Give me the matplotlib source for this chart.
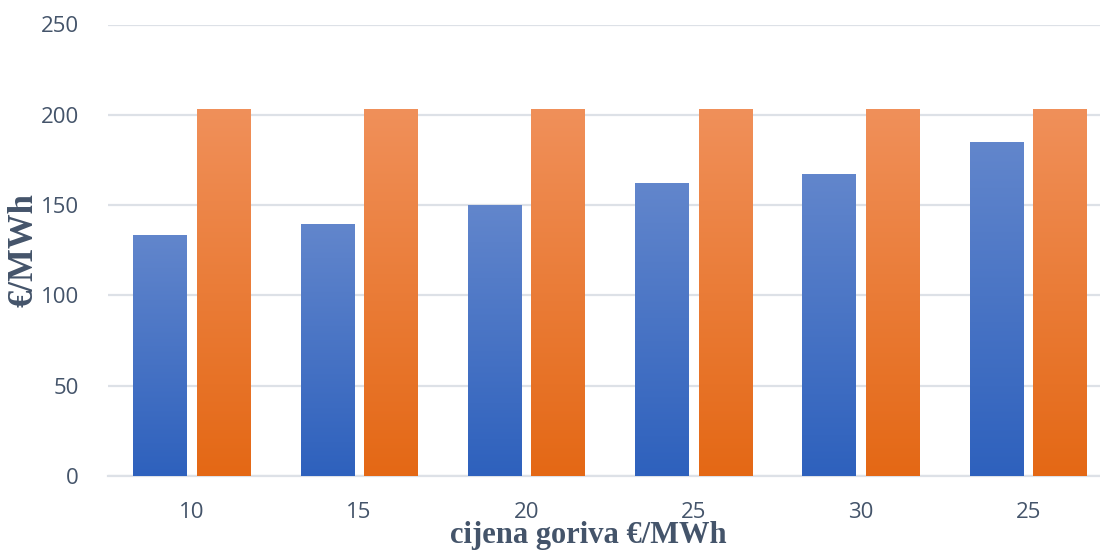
import numpy as np
import matplotlib
matplotlib.use("Agg")
import matplotlib.pyplot as plt
from matplotlib.colors import LinearSegmentedColormap

# Data
kategorije = ["10", "15", "20", "25", "30", "25"]
serija_plava = [133, 139.5, 150, 162, 167, 184.5]
serija_narancasta = [203, 203, 203, 203, 203, 203]

tekst_boja = "#44546A"
plt.rcParams['font.family'] = ['Open Sans', 'DejaVu Sans']

fig = plt.figure(figsize=(11, 5.53), dpi=100)
ax = fig.add_axes([108 / 1100, 77 / 553, 992 / 1100, 451.5 / 553])

x = np.arange(len(kategorije))
w = 0.317
off = 0.19

b1 = ax.bar(x - off, serija_plava, w, color="none", zorder=3)
b2 = ax.bar(x + off, serija_narancasta, w, color="none", zorder=3)

cm_plava = LinearSegmentedColormap.from_list("pl", ["#2E61BD", "#6286CC"])
cm_nar = LinearSegmentedColormap.from_list("nr", ["#E46815", "#F0905A"])

grad = np.linspace(0, 1, 256).reshape(-1, 1)
for bars, cm in [(b1, cm_plava), (b2, cm_nar)]:
    for r in bars:
        x0, y0 = r.get_x(), r.get_y()
        x1, y1 = x0 + r.get_width(), y0 + r.get_height()
        ax.imshow(grad, cmap=cm, origin="lower", aspect="auto",
                  extent=[x0, x1, y0, y1], zorder=3)

ax.set_xlim(-0.5, 5.43)
ax.set_ylim(0, 250)
ax.set_yticks(range(0, 251, 50))
ax.set_xticks(x)
ax.set_xticklabels(kategorije)
ax.grid(axis="y", color="#DDE1E7", linewidth=1.6, zorder=0)
for s in ["top", "right", "left"]:
    ax.spines[s].set_visible(False)
ax.spines["bottom"].set_color("#DDE1E7")
ax.spines["bottom"].set_linewidth(1.6)
ax.tick_params(axis="both", length=0, labelsize=16, labelcolor=tekst_boja)
ax.tick_params(axis="y", pad=21)
ax.tick_params(axis="x", pad=19)

# axis titles
fig.text(24 / 1100, 1 - 250 / 553, "€/MWh", family="Liberation Serif", fontweight="bold",
         fontsize=25, color=tekst_boja, rotation=90, ha="center", va="center")
fig.text(588 / 1100, 1 - 536 / 553, "cijena goriva €/MWh", family="Liberation Serif",
         fontweight="bold", fontsize=22, color=tekst_boja, ha="center", va="center")

fig.savefig("out.png", dpi=100)
